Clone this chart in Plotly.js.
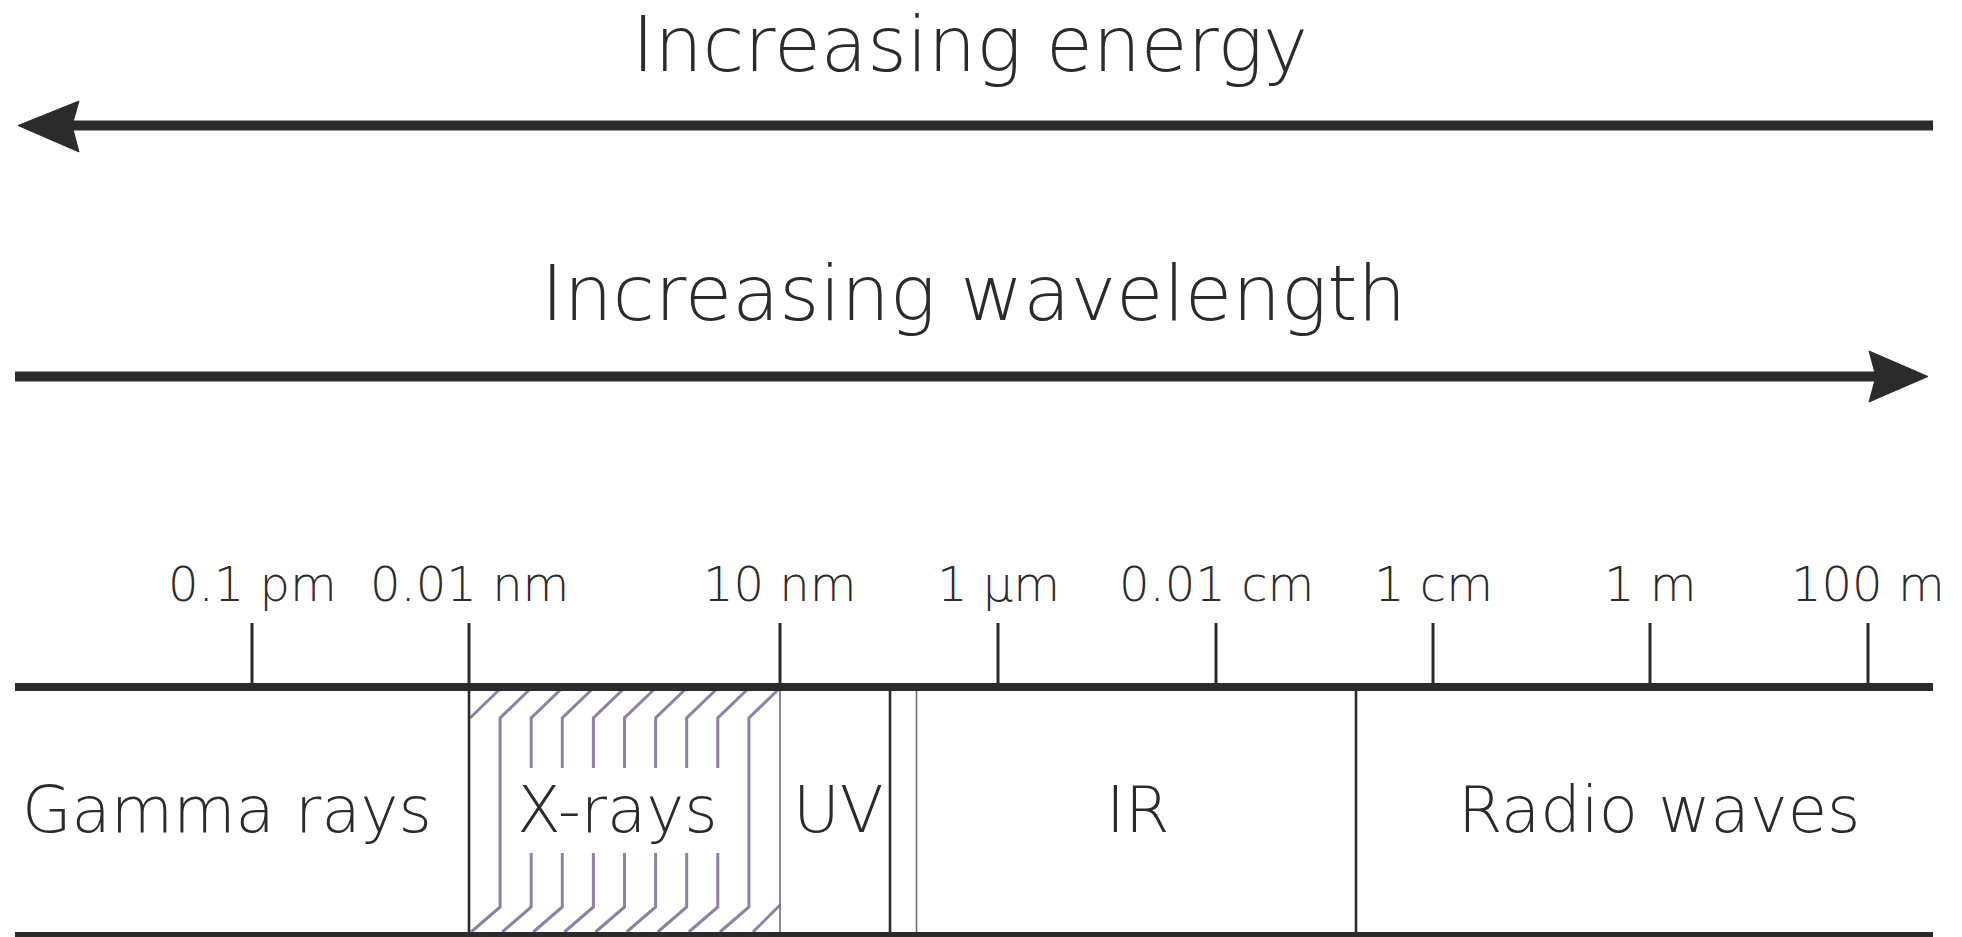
<!DOCTYPE html>
<html>
<head>
<meta charset="utf-8">
<script src="https://cdn.plot.ly/plotly-3.0.1.min.js"></script>
<style>html,body{margin:0;padding:0;background:#fff;} #chart{width:1962px;height:937px;}</style>
</head>
<body>
<div id="chart"></div>
<script>
// ---- data (scale positions along the spectrum bar) ----
const titles = ['Increasing energy', 'Increasing wavelength'];
const tickLabels = ['0.1 pm', '0.01 nm', '10 nm', '1 \u03bcm', '0.01 cm', '1 cm', '1 m', '100 m'];
const tickPositions = [252, 469, 780, 998, 1216, 1433, 1650, 1868];
const regionNames = ['Gamma rays', 'X-rays', 'UV', 'IR', 'Radio waves'];
const regionLabelPos = [227, 617, 838, 1137, 1659];
const regionEdges = [469, 780, 890, 916.5, 1356];
const edgeStyle = ['dark', 'light', 'dark', 'light', 'dark'];
const scaleStart = 15, scaleEnd = 1933;

// ---- styling ----
const INK = '#2b2b2b';
const HATCH = '#8f80a6';
const FONT = '"DejaVu Sans", Lato, sans-serif';
const WEIGHT = 300;
const yTop = 687, yBottom = 936, yTickTop = 623;
const yArrow1 = 125.5, yArrow2 = 376.5;

const shapes = [];
function line(x0, y0, x1, y1, color, width) {
  shapes.push({type: 'line', xref: 'x', yref: 'y', x0, y0, x1, y1, line: {color, width}, layer: 'above'});
}
function path(d, color, width, fill) {
  shapes.push({type: 'path', xref: 'x', yref: 'y', path: d, line: {color, width}, fillcolor: fill || 'rgba(0,0,0,0)', layer: 'above'});
}

// arrows
line(72, yArrow1, scaleEnd, yArrow1, INK, 10);
path(`M 18 ${yArrow1} L 79 101 L 72 ${yArrow1} L 79 152 Z`, INK, 1, INK);
line(scaleStart, yArrow2, 1877, yArrow2, INK, 10);
path(`M 1928 ${yArrow2} L 1869 351 L 1876 ${yArrow2} L 1869 402 Z`, INK, 1, INK);

// hatch pattern inside the X-ray band
const xL = regionEdges[0], xR = regionEdges[1];
const nStrands = 9, pitch = (xR - xL) / 10;
const hTop = 690, hBend1 = 718, hBreak1 = 768, hBreak2 = 853, hBend2 = 907, hBot = 932, dx = 29;
path(`M ${xL + 1} ${hBend1} L ${xL + 1 + dx} ${hTop}`, HATCH, 3);
path(`M ${xR - 27} ${hBot} L ${xR} ${hBend2 - 2}`, HATCH, 3);
for (let i = 0; i < nStrands; i++) {
  const xi = xL + pitch * (i + 1);
  const outer = (i === 0 || i === nStrands - 1);
  if (outer) {
    path(`M ${xi - dx} ${hBot} L ${xi} ${hBend2} L ${xi} ${hBend1} L ${xi + dx} ${hTop}`, HATCH, 3);
  } else {
    path(`M ${xi} ${hBreak1} L ${xi} ${hBend1} L ${xi + dx} ${hTop}`, HATCH, 3);
    path(`M ${xi - dx} ${hBot} L ${xi} ${hBend2} L ${xi} ${hBreak2}`, HATCH, 3);
  }
}

// region dividers
regionEdges.forEach((x, i) => {
  if (edgeStyle[i] === 'dark') line(x, yTop, x, yBottom, INK, 2.6);
  else line(x, yTop, x, yBottom, '#6e6e6e', 1.6);
});

// main scale lines and ticks
line(scaleStart, yTop, scaleEnd, yTop, INK, 8);
line(scaleStart, yBottom, scaleEnd, yBottom, INK, 8);
tickPositions.forEach(x => line(x, yTickTop, x, yTop, INK, 3));

// text
const annotations = [];
annotations.push({x: 970, y: 44, text: titles[0], showarrow: false, xanchor: 'center', yanchor: 'middle',
  font: {family: FONT, size: 76, color: INK, weight: WEIGHT}});
annotations.push({x: 973, y: 293, text: titles[1], showarrow: false, xanchor: 'center', yanchor: 'middle',
  font: {family: FONT, size: 77, color: INK, weight: WEIGHT}});
tickLabels.forEach((t, i) => annotations.push({x: tickPositions[i], y: 584, text: t, showarrow: false,
  xanchor: 'center', yanchor: 'middle', font: {family: FONT, size: 48, color: INK, weight: WEIGHT}}));
regionNames.forEach((t, i) => annotations.push({x: regionLabelPos[i], y: 810, text: t, showarrow: false,
  xanchor: 'center', yanchor: 'middle', font: {family: FONT, size: 64, color: INK, weight: WEIGHT}}));

const layout = {
  width: 1962, height: 937,
  margin: {l: 0, r: 0, t: 0, b: 0, pad: 0},
  paper_bgcolor: '#ffffff', plot_bgcolor: '#ffffff',
  showlegend: false,
  xaxis: {range: [0, 1962], visible: false, fixedrange: true},
  yaxis: {range: [937, 0], visible: false, fixedrange: true},
  shapes, annotations
};
Plotly.newPlot('chart', [{x: [], y: [], type: 'scatter', mode: 'markers', hoverinfo: 'skip'}], layout,
  {staticPlot: true, displayModeBar: false});
</script>
</body>
</html>
